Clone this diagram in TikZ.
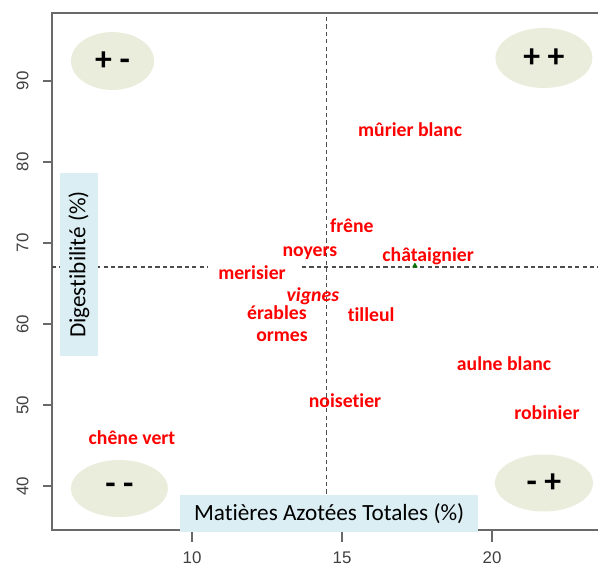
\documentclass[tikz,border=0pt]{standalone}
\usepackage{fontspec}
\setmainfont{Carlito}[Ligatures=NoCommon]
\newfontfamily\axisfont{Liberation Sans}
\usepackage{tikz}
\usetikzlibrary{shapes.geometric}
\definecolor{blabel}{RGB}{218,238,243}
\definecolor{bquad}{RGB}{234,236,220}
\definecolor{faxe}{RGB}{105,105,105}

\begin{document}
\begin{tikzpicture}[x=1cm,y=0.27cm]
\tikzset{esp/.style = {text=red,font=\fontsize{18.7}{20}\selectfont\bfseries,inner sep=1pt}}
\tikzset{quad/.style = {ellipse,fill=bquad,font=\fontsize{32}{32}\selectfont\bfseries,inner sep=0pt}}
\tikzset{titre/.style = {fill=blabel,font=\fontsize{22}{24}\selectfont,inner sep=0pt}}
\tikzset{tick/.style = {text=black!75,font=\axisfont\fontsize{16}{16}\selectfont,inner sep=0pt}}
\tikzset{moy/.style = {draw=black!70,line width=1.1pt,dash pattern=on 4pt off 3pt}}
\useasboundingbox (3.6,29.88) rectangle (23.533,100);
% frame
\coordinate (hg) at (5.333,98.4);
\coordinate (bg) at (5.333,34.57);
\coordinate (hd) at (23.533,98.4);
\coordinate (bd) at (23.533,34.57);
\draw[faxe,line width=1.3pt] (hd) -- (hg) -- (bg) -- (bd);
\foreach \x in {10,15,20}
  {\draw[faxe,line width=1pt] (\x,34.57) -- (\x,33.1);
   \node[tick] (x\x) at (\x,31.2) {\x};}
\foreach \y in {40,50,...,90}
  {\draw[faxe,line width=1pt] (5.333,\y) -- (5.03,\y);
   \node[tick,rotate=90] (y\y) at (4.35,\y) {\y};}
% mean lines
\coordinate (v1) at (14.47,97.9);
\coordinate (v2) at (14.47,34.57);
\coordinate (h1) at (5.333,67.04);
\coordinate (h2) at (10.53,67.04);
\coordinate (h3) at (13.67,67.04);
\coordinate (h4) at (23.533,67.04);
\draw[moy] (v1) -- (v2);
\draw[moy] (h1) -- (h2);
\draw[moy] (h3) -- (h4);
\node[regular polygon,regular polygon sides=3,fill=green!45!black,minimum size=6pt,inner sep=0pt] (pt) at (17.43,67.2) {};
% quadrants
\node[quad,minimum width=2.77cm,minimum height=1.93cm] (q1) at (7.35,92.47) {+ -};
\node[quad,minimum width=3.23cm,minimum height=2cm] (q2) at (21.73,92.84) {+ +};
\node[quad,minimum width=3.23cm,minimum height=1.9cm] (q3) at (7.58,39.69) {- -};
\node[quad,minimum width=3.27cm,minimum height=1.9cm] (q4) at (21.73,40.37) {- +};
% axis titles
\node[titre,minimum width=9.93cm,minimum height=1.23cm] (tx) at (14.57,36.6) {Matières Azotées Totales (\%)};
\node[titre,rotate=90,minimum width=6.1cm,minimum height=1.267cm] (ty) at (6.233,67.35) {Digestibilité (\%)};
% species
\node[esp] (1) at (17.27,83.95) {mûrier blanc};
\node[esp] (2) at (15.33,72.1) {frêne};
\node[esp] (3) at (13.93,68.77) {noyers};
\node[esp] (4) at (17.87,68.4) {châtaignier};
\node[esp] (5) at (12.0,66.3) {merisier};
\node[esp,font=\fontsize{18.7}{20}\selectfont\bfseries\itshape] (6) at (14.03,63.46) {vignes};
\node[esp] (7) at (12.83,61.36) {érables};
\node[esp] (8) at (15.97,61.1) {tilleul};
\node[esp] (9) at (13.0,58.4) {ormes};
\node[esp] (10) at (20.4,55.06) {aulne blanc};
\node[esp] (11) at (15.1,50.5) {noisetier};
\node[esp] (12) at (21.83,49.0) {robinier};
\node[esp] (13) at (8.0,45.93) {chêne vert};
\end{tikzpicture}
\end{document}
